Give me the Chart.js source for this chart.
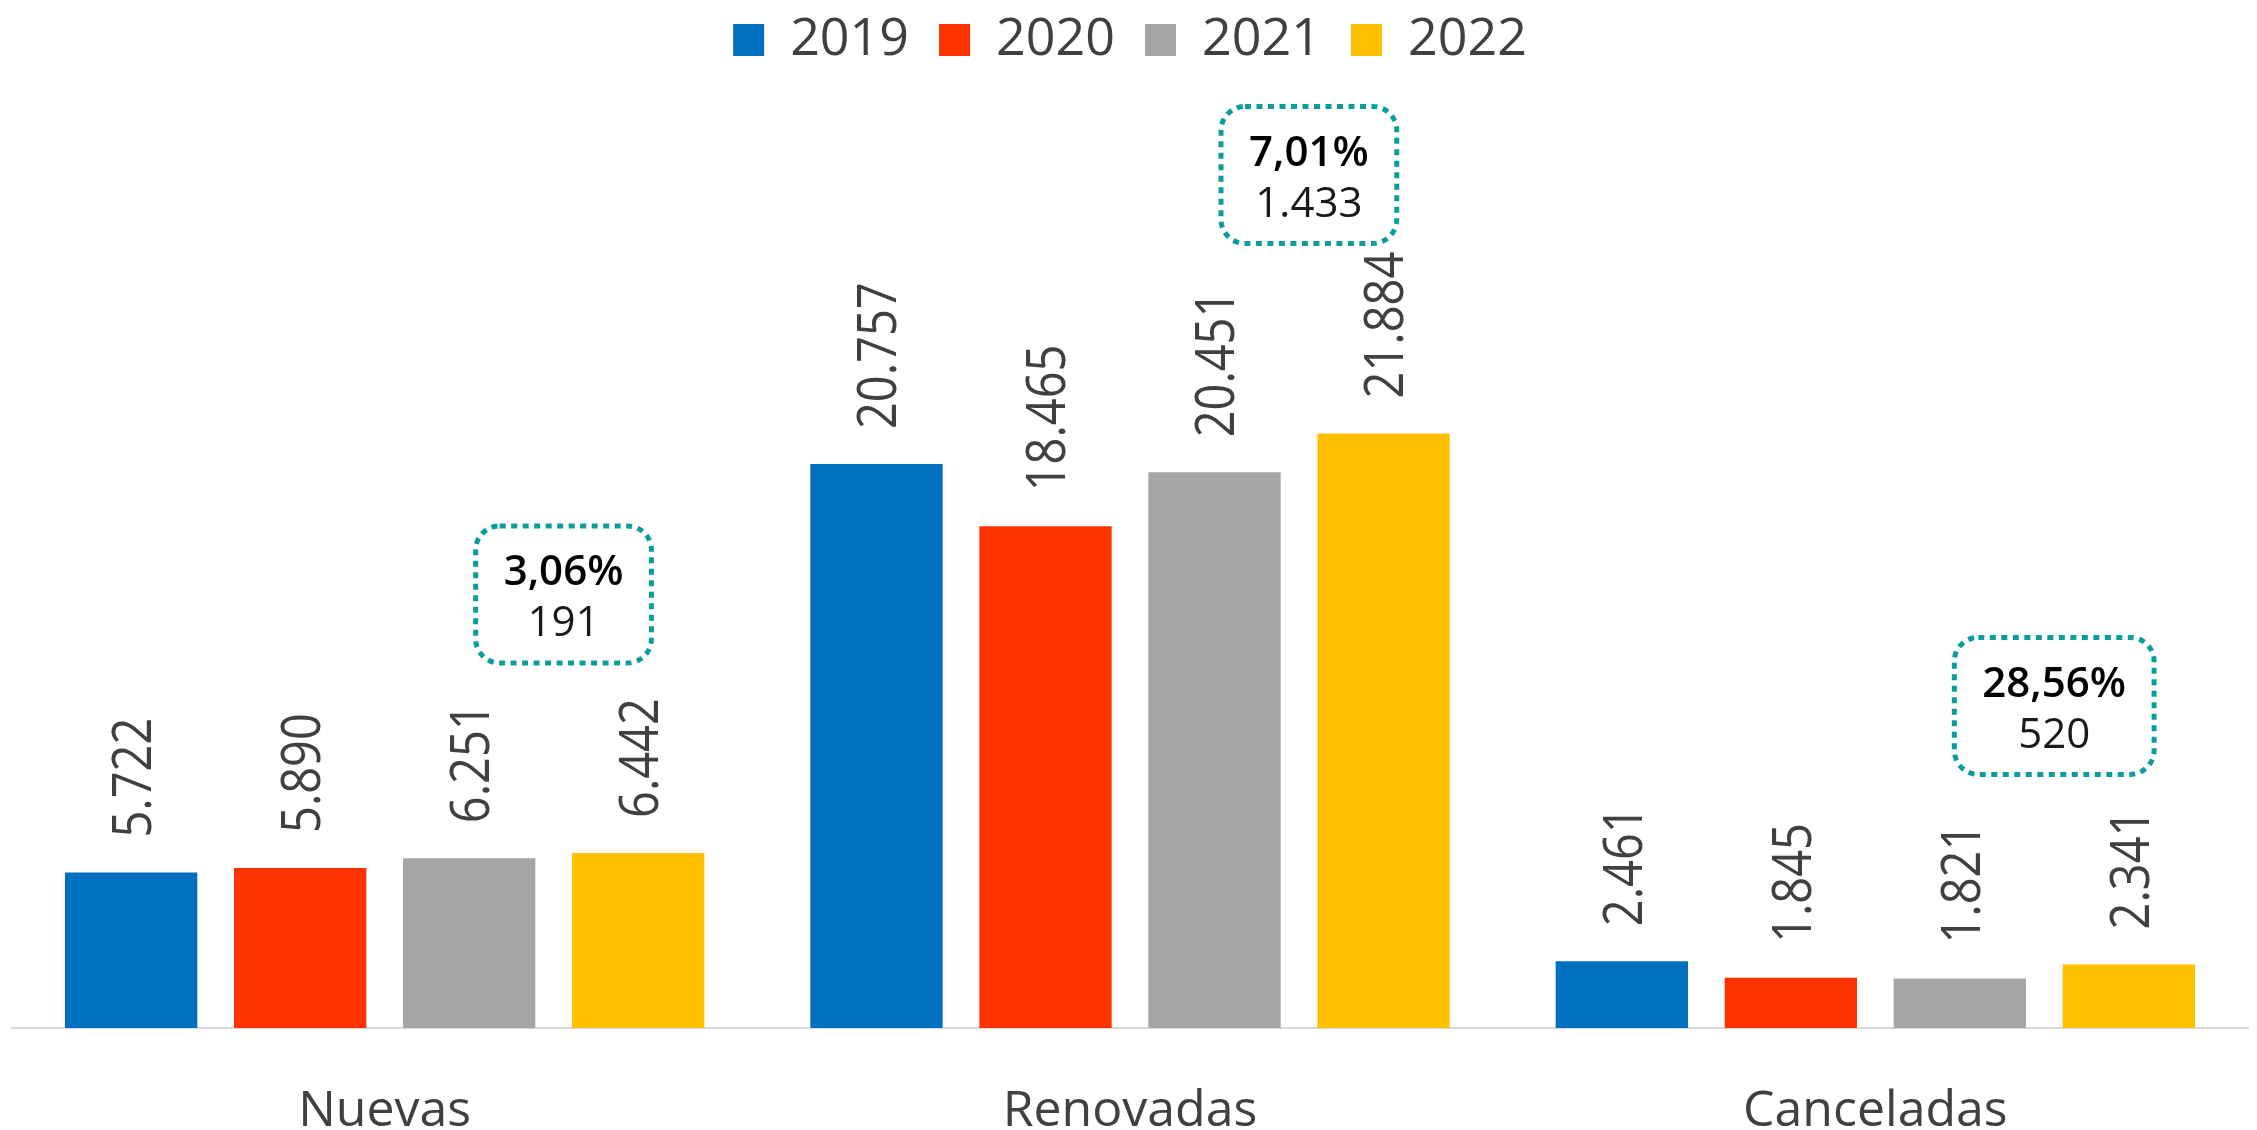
<!DOCTYPE html>
<html>
<head>
<meta charset="utf-8">
<script src="https://cdn.jsdelivr.net/npm/chart.js@4.4.1/dist/chart.umd.min.js"></script>
<style>
    html, body { margin: 0; padding: 0; background: #fff; }
    canvas { display: block; }
</style>
</head>
<body>
<canvas id="chart" width="2257" height="1130"></canvas>
<script>
// Datos del gráfico
const categories = ['Nuevas', 'Renovadas', 'Canceladas'];
const years = ['2019', '2020', '2021', '2022'];
const values2019 = [5722, 20757, 2461];
const values2020 = [5890, 18465, 1845];
const values2021 = [6251, 20451, 1821];
const values2022 = [6442, 21884, 2341];
// Variación 2022 vs 2021 (texto de los recuadros)
const changePct = ['3,06%', '7,01%', '28,56%'];
const changeAbs = ['191', '1.433', '520'];

const colors = ['#0070C0', '#FF3300', '#A5A5A5', '#FFC000'];
const series = [values2019, values2020, values2021, values2022];

const FONT = '"Open Sans", "Noto Sans", sans-serif';

// formato con punto de miles: 20757 -> 20.757
function fmt(v) {
    return String(v).replace(/\B(?=(\d{3})+(?!\d))/g, '.');
}

// Etiquetas verticales encima de cada barra
const valueLabels = {
    id: 'valueLabels',
    afterDatasetsDraw(chart) {
        const ctx = chart.ctx;
        const size = 47;
        const capH = size * 0.714;
        chart.data.datasets.forEach((ds, i) => {
            chart.getDatasetMeta(i).data.forEach((bar, j) => {
                ctx.save();
                ctx.fillStyle = '#404040';
                ctx.font = size + 'px ' + FONT;
                ctx.textAlign = 'left';
                ctx.textBaseline = 'alphabetic';
                ctx.translate(bar.x, bar.y - 35);
                ctx.rotate(-Math.PI / 2);
                ctx.scale(1, 1.18);
                ctx.fillText(fmt(ds.data[j]), 0, capH / 2);
                ctx.restore();
            });
        });
    }
};

// Recuadros punteados con la variación
const changeBoxes = {
    id: 'changeBoxes',
    afterDatasetsDraw(chart) {
        const ctx = chart.ctx;
        const xs = chart.scales.x;
        const lastBars = chart.getDatasetMeta(series.length - 1).data;
        const catW = xs.width / categories.length;

        categories.forEach((c, i) => {
            const cx = xs.getPixelForValue(i) + catW * 0.24;
            const bottom = lastBars[i].y - 190;
            const h = 137;
            const cy = bottom - h / 2;

            ctx.save();
            ctx.font = '600 42px ' + FONT;
            const w1 = ctx.measureText(changePct[i]).width;
            ctx.font = '42px ' + FONT;
            const w2 = ctx.measureText(changeAbs[i]).width;
            const w = Math.max(w1, w2) + 56;

            ctx.strokeStyle = '#0A9E9B';
            ctx.lineWidth = 5;
            ctx.setLineDash([6, 5.5]);
            ctx.beginPath();
            ctx.roundRect(cx - w / 2, bottom - h, w, h, 24);
            ctx.stroke();
            ctx.setLineDash([]);

            ctx.textAlign = 'center';
            ctx.textBaseline = 'alphabetic';
            ctx.fillStyle = '#000000';
            ctx.font = '600 42px ' + FONT;
            ctx.fillText(changePct[i], cx, cy - 9);
            ctx.fillStyle = '#1a1a1a';
            ctx.font = '42px ' + FONT;
            ctx.fillText(changeAbs[i], cx, cy + 42);
            ctx.restore();
        });
    }
};

const datasets = years.map((y, i) => ({
    label: y,
    data: series[i],
    backgroundColor: colors[i],
    borderWidth: 0,
    categoryPercentage: 0.907,
    barPercentage: 0.783
}));

new Chart(document.getElementById('chart'), {
    type: 'bar',
    data: { labels: categories, datasets: datasets },
    options: {
        responsive: false,
        devicePixelRatio: 1,
        animation: false,
        layout: { padding: { top: -16, left: 12, right: 9, bottom: -66 } },
        scales: {
            x: {
                grid: { display: false, drawTicks: false },
                border: { display: true, color: '#D9D9D9', width: 2 },
                ticks: {
                    color: '#404040',
                    padding: 54,
                    font: { family: FONT, size: 50 }
                }
            },
            y: {
                display: false,
                min: 0,
                max: 35040
            }
        },
        plugins: {
            legend: {
                position: 'top',
                labels: {
                    boxWidth: 31,
                    boxHeight: 32,
                    padding: 30,
                    color: '#404040',
                    font: { family: FONT, size: 52 }
                }
            },
            tooltip: { enabled: false }
        }
    },
    plugins: [valueLabels, changeBoxes]
});
</script>
</body>
</html>
